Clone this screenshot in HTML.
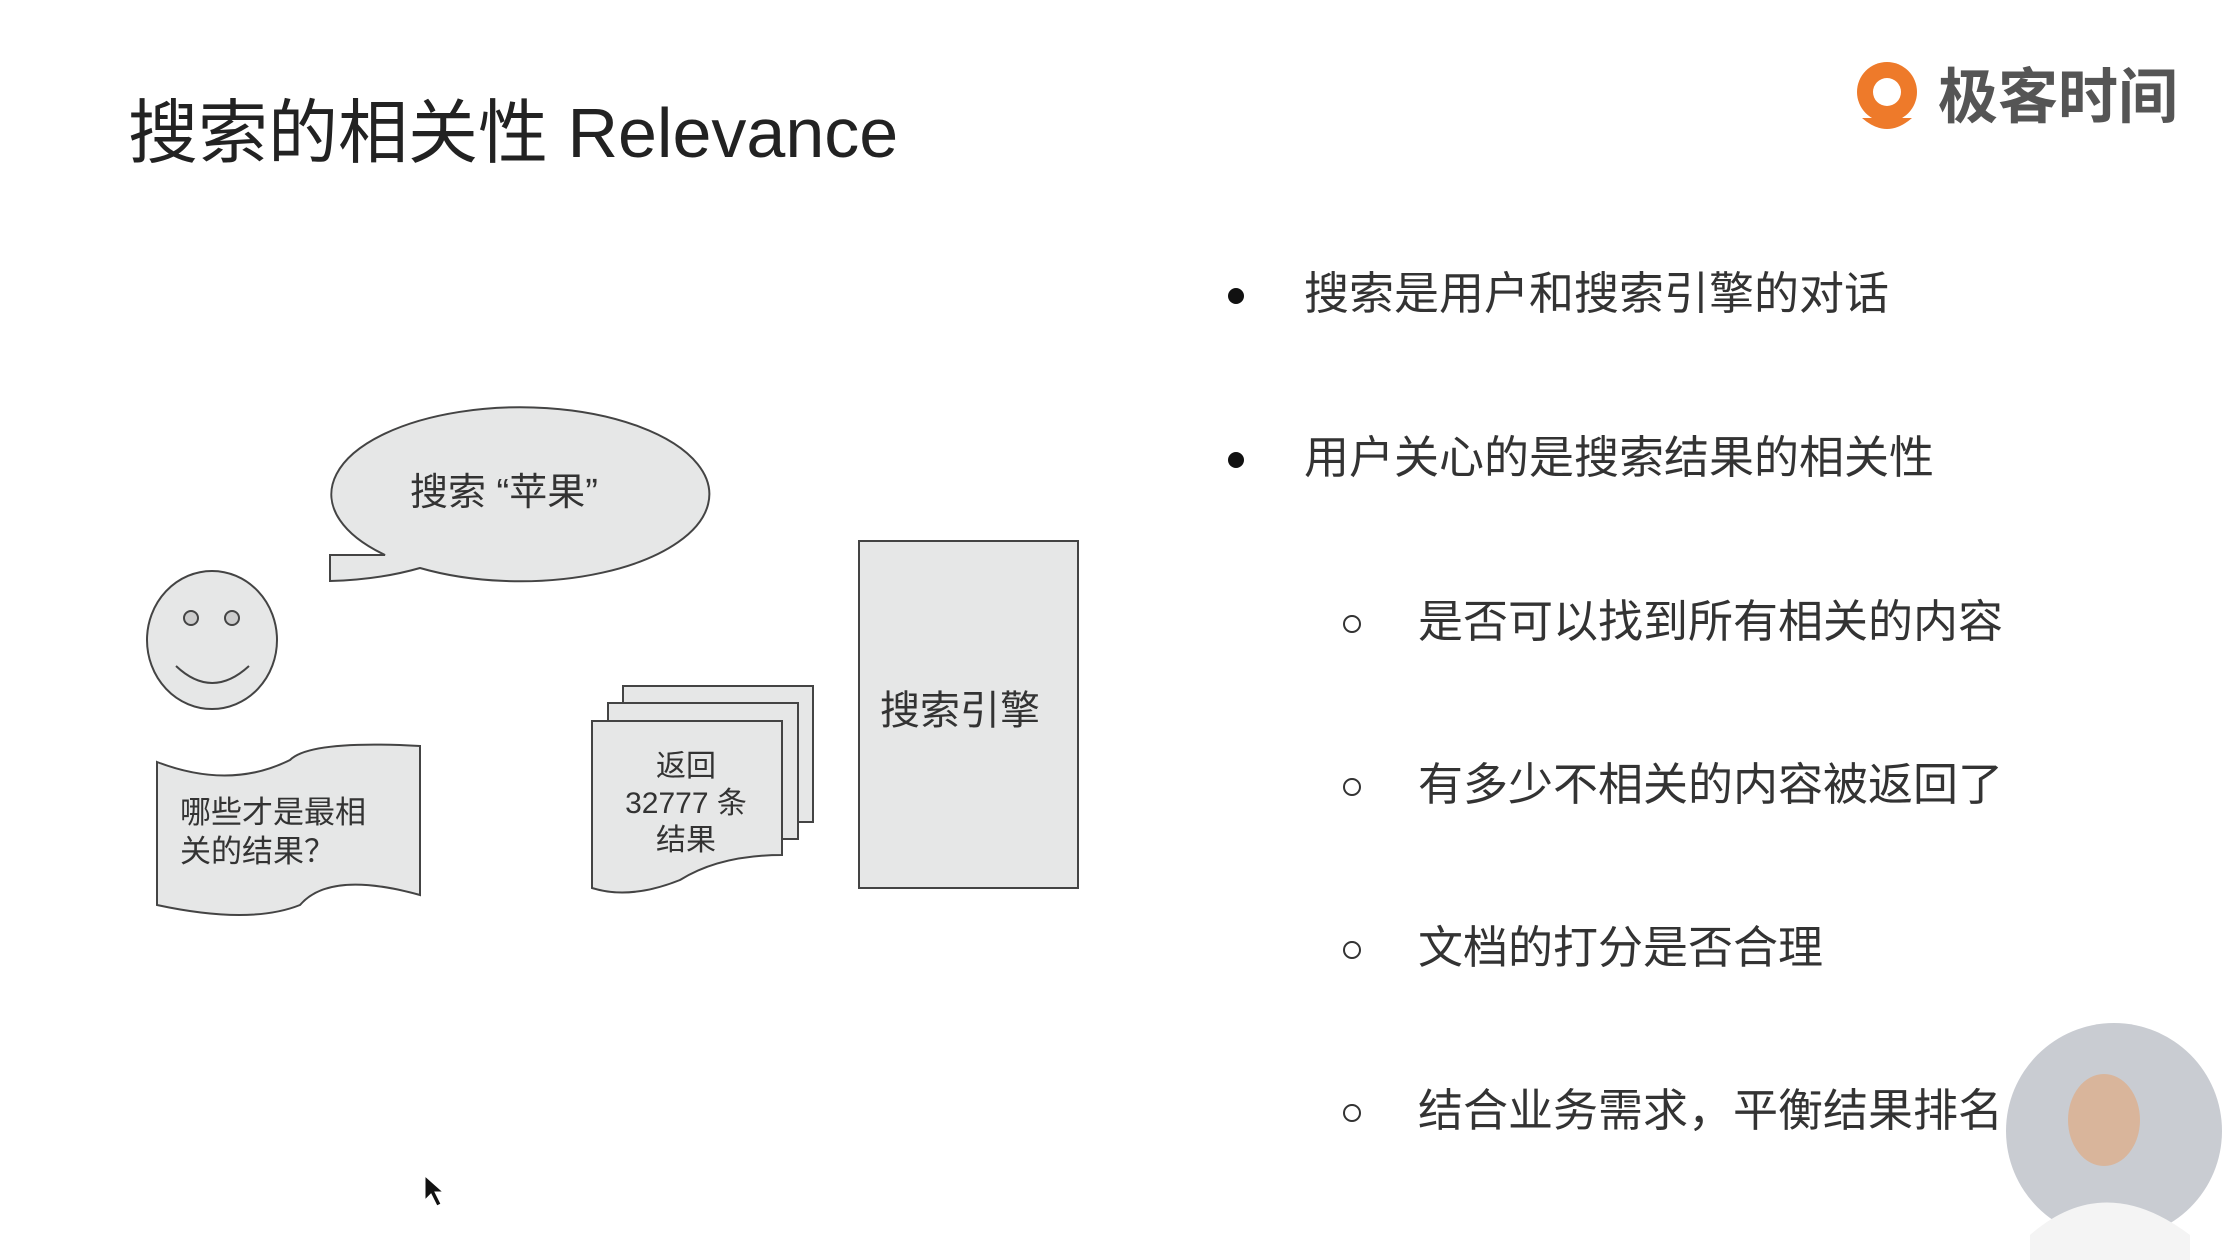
<!DOCTYPE html>
<html><head><meta charset="utf-8"><style>
body{margin:0;width:2222px;height:1260px;background:#fff;overflow:hidden;position:relative;font-family:"Liberation Sans","Noto Sans CJK SC",sans-serif;color:#333}
.t{position:absolute;white-space:nowrap;line-height:1}
</style></head><body>
<div class="t" style="left:128px;top:98px;font-size:70px;color:#222">搜索的相关性 Relevance</div>
<svg width="2222" height="1260" style="position:absolute;left:0;top:0">
<g fill="#e6e7e7" stroke="#444" stroke-width="2">
<path d="M385,555 A189,87 0 1 1 420,568 A189,87 0 0 1 330,581 L330,555 Z"/>
<ellipse cx="212" cy="640" rx="65" ry="69"/>
<path d="M157,762 Q230,790 290,760 Q310,740 420,746 L420,895 Q330,870 300,905 Q250,925 157,905 Z"/>
<rect x="623" y="686" width="190" height="136"/>
<rect x="608" y="703" width="190" height="136"/>
<path d="M592,721 L782,721 L782,855 Q720,855 680,880 Q630,900 592,888 Z"/>
<rect x="859" y="541" width="219" height="347"/>
</g>
<circle cx="191" cy="618" r="7" fill="#ccc" stroke="#444" stroke-width="2"/>
<circle cx="232" cy="618" r="7" fill="#ccc" stroke="#444" stroke-width="2"/>
<path d="M176,666 Q212,700 249,666" fill="none" stroke="#444" stroke-width="2"/>
<circle cx="1887" cy="92" r="30" fill="#ee7a2a"/>
<circle cx="1887" cy="92" r="14" fill="#fff"/>
<path d="M1862,118 Q1887,140 1912,118 Z" fill="#ee7a2a"/>
<circle cx="1236" cy="296" r="8" fill="#111"/>
<circle cx="1236" cy="460" r="8" fill="#111"/>
<g fill="none" stroke="#333" stroke-width="2">
<circle cx="1352" cy="624" r="8"/><circle cx="1352" cy="787" r="8"/><circle cx="1352" cy="950" r="8"/><circle cx="1352" cy="1113" r="8"/>
</g>
<circle cx="2114" cy="1131" r="108" fill="#c9ccd2"/>
<ellipse cx="2104" cy="1120" rx="36" ry="46" fill="#d9b59b"/>
<path d="M2030,1235 Q2104,1170 2190,1235 L2190,1260 L2030,1260Z" fill="#f4f4f4"/>
<path d="M425,1176 L425,1200 L431,1194 L437,1206 L441,1204 L435,1192 L443,1192 Z" fill="#111" stroke="#fff" stroke-width="1"/>
</svg>
<div class="t" style="left:1938px;top:68px;font-size:60px;color:#555;font-weight:bold">极客时间</div>
<div class="t" style="left:410px;top:474px;font-size:38px">搜索 “苹果”</div>
<div class="t" style="left:180px;top:793px;font-size:31px;line-height:39px">哪些才是最相<br>关的结果？</div>
<div class="t" style="left:606px;top:748px;width:160px;text-align:center;font-size:30px;line-height:37px">返回<br>32777 条<br>结果</div>
<div class="t" style="left:880px;top:691px;font-size:40px">搜索引擎</div>
<div class="t" style="left:1304px;top:271px;font-size:45px">搜索是用户和搜索引擎的对话</div>
<div class="t" style="left:1304px;top:435px;font-size:45px">用户关心的是搜索结果的相关性</div>
<div class="t" style="left:1418px;top:599px;font-size:45px">是否可以找到所有相关的内容</div>
<div class="t" style="left:1418px;top:762px;font-size:45px">有多少不相关的内容被返回了</div>
<div class="t" style="left:1418px;top:925px;font-size:45px">文档的打分是否合理</div>
<div class="t" style="left:1418px;top:1088px;font-size:45px">结合业务需求，平衡结果排名</div>
</body></html>
